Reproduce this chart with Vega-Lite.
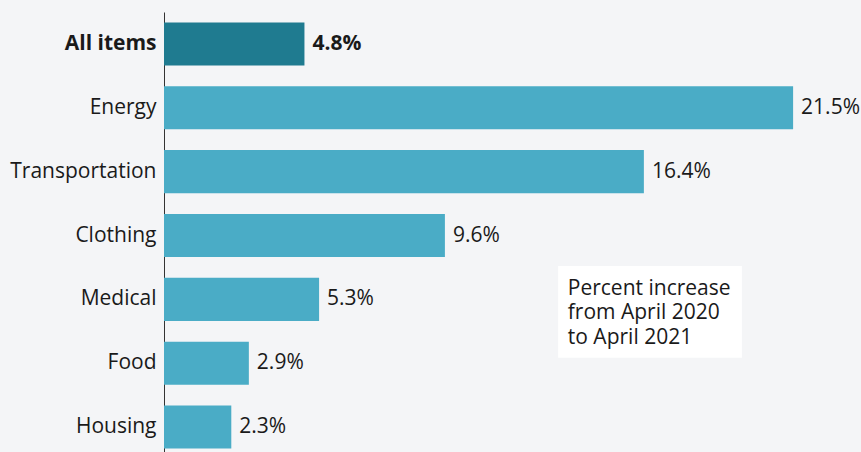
{
  "$schema": "https://vega.github.io/schema/vega-lite/v6.json",
  "autosize": "none",
  "padding": {"left": 164, "top": 12, "right": 24, "bottom": 0},
  "width": 673,
  "height": 447,
  "background": "#f4f5f7",
  "config": {
    "view": {"stroke": null},
    "font": "Open Sans"
  },
  "data": {
    "values": [
      {"category": "All items", "value": 4.8},
      {"category": "Energy", "value": 21.5},
      {"category": "Transportation", "value": 16.4},
      {"category": "Clothing", "value": 9.6},
      {"category": "Medical", "value": 5.3},
      {"category": "Food", "value": 2.9},
      {"category": "Housing", "value": 2.3}
    ]
  },
  "encoding": {
    "y": {
      "field": "category",
      "type": "nominal",
      "sort": null,
      "scale": {"paddingInner": 0.326, "paddingOuter": 0.163},
      "axis": {
        "title": null,
        "ticks": false,
        "domainColor": "#333333",
        "domainWidth": 1,
        "labelFontSize": 21,
        "labelColor": "#1a1a1a",
        "labelPadding": 8,
        "labelFont": "Open Sans",
        "labelFontWeight": {"condition": {"test": "datum.value == 'All items'", "value": "bold"}, "value": "normal"}
      }
    }
  },
  "layer": [
    {
      "mark": {"type": "bar"},
      "encoding": {
        "x": {"field": "value", "type": "quantitative", "scale": {"domain": [0, 23], "nice": false}, "axis": null},
        "color": {
          "condition": {"test": "datum.category == 'All items'", "value": "#1f7b90"},
          "value": "#4aacc6"
        }
      }
    },
    {
      "transform": [
        {"filter": "datum.category != 'All items'"},
        {"calculate": "format(datum.value, '.1f') + '%'", "as": "label"}
      ],
      "mark": {"type": "text", "align": "left", "baseline": "middle", "dx": 8, "fontSize": 21, "color": "#1a1a1a"},
      "encoding": {
        "x": {"field": "value", "type": "quantitative"},
        "text": {"field": "label"}
      }
    },
    {
      "transform": [
        {"filter": "datum.category == 'All items'"},
        {"calculate": "format(datum.value, '.1f') + '%'", "as": "label"}
      ],
      "mark": {"type": "text", "align": "left", "baseline": "middle", "dx": 8, "fontSize": 21, "fontWeight": "bold", "color": "#1a1a1a"},
      "encoding": {
        "x": {"field": "value", "type": "quantitative"},
        "text": {"field": "label"}
      }
    },
    {
      "data": {"values": [{"note": "Percent increase from April 2020 to April 2021"}]},
      "mark": {"type": "rect", "color": "#ffffff", "yOffset": 30.5, "y2Offset": -5.5},
      "encoding": {
        "x": {"datum": 13.47, "type": "quantitative"},
        "x2": {"datum": 19.75},
        "y": {"datum": "Clothing", "type": "nominal"},
        "y2": {"datum": "Food"}
      }
    },
    {
      "data": {"values": [{"note": ["Percent increase", "from April 2020", "to April 2021"]}]},
      "mark": {"type": "text", "align": "left", "baseline": "alphabetic", "fontSize": 21, "lineHeight": 24.5, "dy": -4.5, "color": "#1a1a1a"},
      "encoding": {
        "x": {"datum": 13.8, "type": "quantitative"},
        "y": {"datum": "Medical", "type": "nominal"},
        "text": {"field": "note"}
      }
    }
  ]
}
